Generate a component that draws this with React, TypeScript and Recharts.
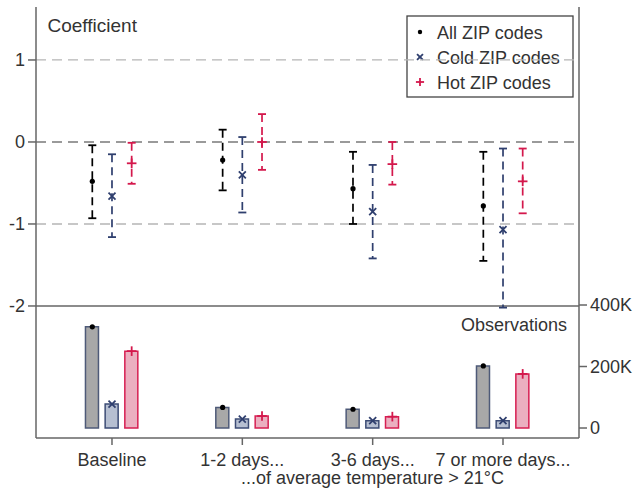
import React from 'react';
import { ComposedChart, XAxis, YAxis, Line, Scatter, Bar, Cell, ReferenceLine } from 'recharts';

const categories = ['Baseline', '1-2 days...', '3-6 days...', '7 or more days...'];
const seriesNames = ['All ZIP codes', 'Cold ZIP codes', 'Hot ZIP codes'];

const coefAll = [-0.48, -0.22, -0.57, -0.78];
const lowAll = [-0.93, -0.59, -1.0, -1.45];
const highAll = [-0.04, 0.15, -0.12, -0.12];

const coefCold = [-0.66, -0.4, -0.85, -1.07];
const lowCold = [-1.16, -0.86, -1.42, -2.02];
const highCold = [-0.15, 0.06, -0.28, -0.08];

const coefHot = [-0.26, 0.0, -0.27, -0.48];
const lowHot = [-0.51, -0.34, -0.52, -0.87];
const highHot = [-0.01, 0.34, 0.0, -0.08];

const obsAll = [329000, 67000, 61000, 202000];
const obsCold = [78000, 29000, 24000, 24000];
const obsHot = [250000, 39000, 37000, 176000];

const coefTicks = [-2, -1, 0, 1];
const obsTicks = [0, 200000, 400000];
const xTicks = [1, 2, 3, 4];

const FONT = '"Liberation Sans", Arial, Helvetica, sans-serif';
const TEXT = '#333333';
const FRAME = '#666666';
const DODGE = 0.151;

type Kind = 'dot' | 'x' | 'plus';

const series = [
  { name: seriesNames[0], coef: coefAll, low: lowAll, high: highAll, obs: obsAll, color: '#000000', kind: 'dot' as Kind, barFill: '#a8a8a8', barStroke: '#4e5a78' },
  { name: seriesNames[1], coef: coefCold, low: lowCold, high: highCold, obs: obsCold, color: '#2f3f6e', kind: 'x' as Kind, barFill: '#b6bfd1', barStroke: '#3d4c75' },
  { name: seriesNames[2], coef: coefHot, low: lowHot, high: highHot, obs: obsHot, color: '#d4184c', kind: 'plus' as Kind, barFill: '#ebafc0', barStroke: '#d61f52' },
];

function Marker({ kind, cx, cy, color, s = 1 }: { kind: Kind; cx: number; cy: number; color: string; s?: number }) {
  if (cx == null || cy == null) return null;
  if (kind === 'dot') return <circle cx={cx} cy={cy} r={2.6 * s} fill={color} />;
  if (kind === 'x') {
    const d = 3.5 * s;
    return (
      <g stroke={color} strokeWidth={1.8}>
        <line x1={cx - d} y1={cy - d} x2={cx + d} y2={cy + d} />
        <line x1={cx - d} y1={cy + d} x2={cx + d} y2={cy - d} />
      </g>
    );
  }
  const d = 4.8 * s;
  return (
    <g stroke={color} strokeWidth={1.8}>
      <line x1={cx - d} y1={cy} x2={cx + d} y2={cy} />
      <line x1={cx} y1={cy - d} x2={cx} y2={cy + d} />
    </g>
  );
}

const barRows = categories.flatMap((_, i) =>
  series.map((s, k) => ({ x: i + 1 + (k - 1) * DODGE, obs: s.obs[i], k }))
);

export default function App() {
  return (
    <div style={{ position: 'absolute', left: 0, top: 0 }}>
      <ComposedChart
        width={634}
        height={489}
        data={barRows}
        margin={{ top: 7, right: 0, bottom: 0, left: 0 }}
        style={{ fontFamily: FONT }}
      >
        <XAxis
          dataKey="x"
          type="number"
          domain={[0.417, 4.583]}
          allowDataOverflow
          ticks={xTicks}
          tickFormatter={(v: number) => categories[v - 1] ?? ''}
          height={51}
          tickSize={7}
          tickMargin={8}
          stroke={FRAME}
          axisLine={{ stroke: FRAME, strokeWidth: 1.5 }}
          tickLine={{ stroke: FRAME, strokeWidth: 1.5 }}
          tick={{ fill: TEXT, fontSize: 18, fontFamily: FONT }}
          interval={0}
          label={{ value: '...of average temperature > 21°C', position: 'insideBottom', offset: 5, dx: 65, fill: TEXT, fontSize: 18, fontFamily: FONT }}
        />
        <XAxis
          xAxisId="top"
          orientation="top"
          dataKey="x"
          type="number"
          domain={[0.417, 4.583]}
          allowDataOverflow
          height={0}
          tick={false}
          tickLine={false}
          axisLine={{ stroke: FRAME, strokeWidth: 1.5 }}
        />
        <YAxis
          yAxisId="coef"
          type="number"
          domain={[-3.61, 1.646]}
          allowDataOverflow
          ticks={coefTicks}
          width={36}
          tickSize={8}
          tickMargin={3}
          axisLine={{ stroke: FRAME, strokeWidth: 1.5 }}
          tickLine={{ stroke: FRAME, strokeWidth: 1.5 }}
          tick={{ fill: TEXT, fontSize: 18, fontFamily: FONT }}
          interval={0}
        />
        <YAxis
          yAxisId="obs"
          orientation="right"
          type="number"
          domain={[-32500, 1369100]}
          allowDataOverflow
          ticks={obsTicks}
          width={55}
          tickSize={8}
          tickMargin={3}
          tickFormatter={(v: number) => (v === 0 ? '0' : `${v / 1000}K`)}
          axisLine={{ stroke: FRAME, strokeWidth: 1.5 }}
          tickLine={{ stroke: FRAME, strokeWidth: 1.5 }}
          tick={{ fill: TEXT, fontSize: 18, fontFamily: FONT }}
          interval={0}
        />

        <ReferenceLine yAxisId="coef" y={1} stroke="#b5b5b5" strokeWidth={1.3} strokeDasharray="10 6" />
        <ReferenceLine yAxisId="coef" y={-1} stroke="#b5b5b5" strokeWidth={1.3} strokeDasharray="10 6" />
        <ReferenceLine yAxisId="coef" y={0} stroke="#7a7a7a" strokeWidth={1.5} strokeDasharray="10 6" />
        <ReferenceLine yAxisId="coef" y={-2} stroke={FRAME} strokeWidth={1.5} />

        <Bar dataKey="obs" yAxisId="obs" barSize={13} isAnimationActive={false} strokeWidth={1.5}>
          {barRows.map((r, idx) => (
            <Cell key={idx} fill={series[r.k].barFill} stroke={series[r.k].barStroke} />
          ))}
        </Bar>

        {series.flatMap((s, k) =>
          categories.map((_, i) => {
            const x = i + 1 + (k - 1) * DODGE;
            return (
              <Line
                key={`w-${k}-${i}`}
                yAxisId="coef"
                data={[{ x, y: s.high[i] }, { x, y: s.low[i] }]}
                dataKey="y"
                stroke={s.color}
                strokeWidth={1.7}
                strokeDasharray="8 5"
                dot={false}
                activeDot={false}
                isAnimationActive={false}
                legendType="none"
              />
            );
          })
        )}

        {series.map((s, k) => (
          <Scatter
            key={`cap-${k}`}
            yAxisId="coef"
            data={categories.flatMap((_, i) => [
              { x: i + 1 + (k - 1) * DODGE, y: s.high[i] },
              { x: i + 1 + (k - 1) * DODGE, y: s.low[i] },
            ])}
            dataKey="y"
            isAnimationActive={false}
            shape={(p: any) => (
              <line x1={p.cx - 4} x2={p.cx + 4} y1={p.cy} y2={p.cy} stroke={s.color} strokeWidth={1.8} />
            )}
          />
        ))}

        {series.map((s, k) => (
          <Scatter
            key={`pt-${k}`}
            yAxisId="coef"
            data={categories.map((_, i) => ({ x: i + 1 + (k - 1) * DODGE, y: s.coef[i] }))}
            dataKey="y"
            isAnimationActive={false}
            shape={(p: any) => <Marker kind={s.kind} cx={p.cx} cy={p.cy} color={s.color} />}
          />
        ))}

        {series.map((s, k) => (
          <Scatter
            key={`ob-${k}`}
            yAxisId="obs"
            data={categories.map((_, i) => ({ x: i + 1 + (k - 1) * DODGE, y: s.obs[i] }))}
            dataKey="y"
            isAnimationActive={false}
            shape={(p: any) => <Marker kind={s.kind} cx={p.cx} cy={p.cy} color={s.color} />}
          />
        ))}

        <text x={47.5} y={32} fontSize={19} fill={TEXT} fontFamily={FONT}>Coefficient</text>
        <text x={567} y={331} fontSize={18} fill={TEXT} fontFamily={FONT} textAnchor="end">Observations</text>

        <g>
          <rect x={407} y={16} width={166} height={81} fill="#ffffff" stroke="#444444" strokeWidth={1.3} />
          {series.map((s, k) => (
            <g key={`lg-${k}`}>
              <Marker kind={s.kind} cx={420} cy={32 + k * 25} color={s.color} s={0.85} />
              <text x={437} y={38.5 + k * 25} fontSize={18} fill={TEXT} fontFamily={FONT}>{s.name}</text>
            </g>
          ))}
        </g>
      </ComposedChart>
    </div>
  );
}
